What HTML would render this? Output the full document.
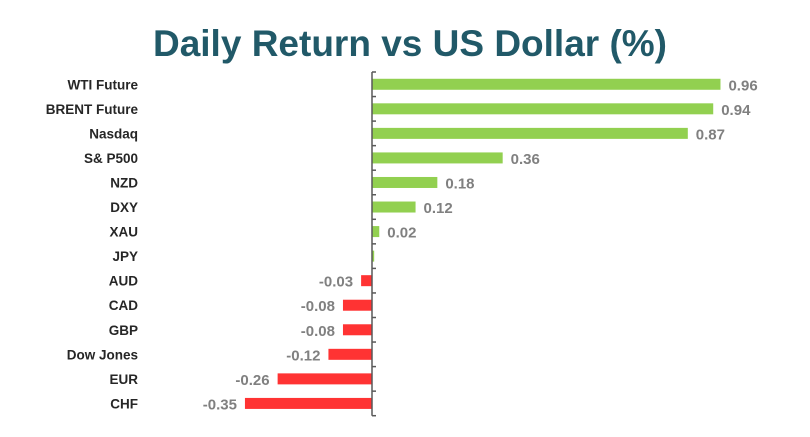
<!DOCTYPE html>
<html><head><meta charset="utf-8"><style>
body{margin:0;background:#fff;}
svg{display:block;font-family:"Liberation Sans",sans-serif;}
</style></head><body>
<svg width="810" height="437">
<text x="410" y="56" text-anchor="middle" font-size="37" font-weight="bold" fill="#215968">Daily Return vs US Dollar (%)</text>
<g id="plot"></g>
</svg>
<script>
const categories=["WTI Future","BRENT Future","Nasdaq","S& P500","NZD","DXY","XAU","JPY","AUD","CAD","GBP","Dow Jones","EUR","CHF"];
const values=[0.96,0.94,0.87,0.36,0.18,0.12,0.02,0.006,-0.03,-0.08,-0.08,-0.12,-0.26,-0.35];
const valueLabels=["0.96","0.94","0.87","0.36","0.18","0.12","0.02","","-0.03","-0.08","-0.08","-0.12","-0.26","-0.35"];
const ns="http://www.w3.org/2000/svg";
const g=document.getElementById('plot');
const x0=372,scale=363,top0=72,step=24.55,barH=11;
const xs=v=>x0+v*scale;
const yc=i=>top0+step*(i+0.5);
function mk(t,a){const e=document.createElementNS(ns,t);for(const k in a)e.setAttribute(k,a[k]);g.appendChild(e);return e;}
categories.forEach((c,i)=>{
  const v=values[i],x=xs(v),y=yc(i);
  const r=mk('rect',{x:Math.min(x,x0),y:y-barH/2,width:Math.abs(x-x0),height:barH,fill:v>=0?'#92d050':'#ff3333'});
  
  
  const t=mk('text',{x:138,y:y+5,'text-anchor':'end','font-size':13.5,'font-weight':'bold',fill:'#262626'});
  t.textContent=c;
  
  
  if(valueLabels[i]){
    const l=mk('text',{x:v>=0?x+8:x-8,y:y+6,'text-anchor':v>=0?'start':'end','font-size':15,'font-weight':'bold',fill:'#808080'});
    l.textContent=valueLabels[i];
    
    
  }
});
const ax=mk('line',{x1:x0,x2:x0,y1:top0,y2:top0+step*categories.length,stroke:'#595959','stroke-width':1.5});


for(let i=0;i<=categories.length;i++){
  const tk=mk('line',{x1:x0,x2:x0+4,y1:top0+step*i,y2:top0+step*i,stroke:'#595959','stroke-width':1.5});
  
  
}
</script>
</body></html>
